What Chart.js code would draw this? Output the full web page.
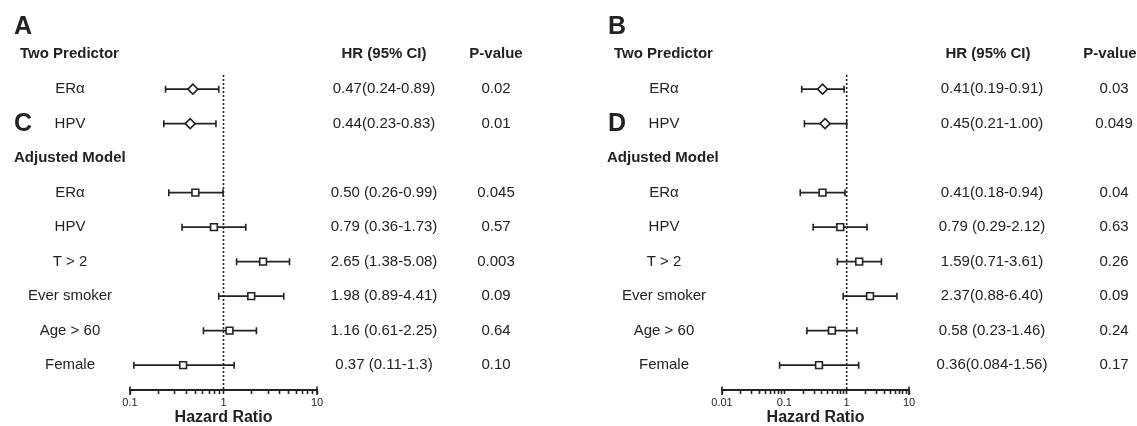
<!DOCTYPE html>
<html>
<head>
<meta charset="utf-8">
<script src="https://cdn.jsdelivr.net/npm/chart.js@4.4.1/dist/chart.umd.min.js"></script>
<style>
  html, body { margin: 0; padding: 0; background: #fff; }
  #wrap { position: relative; width: 1137px; height: 426px; overflow: hidden; }
  #wrap canvas { position: absolute; top: 0; }
</style>
</head>
<body>
<div id="wrap">
  <canvas id="panelLeft" width="568" height="426" style="left:0"></canvas>
  <canvas id="panelRight" width="569" height="426" style="left:568px"></canvas>
</div>
<script>
// ---- rows (slot 2 is the "Adjusted Model" heading) ----
const rowLabels = ['ERα', 'HPV', 'ERα', 'HPV', 'T > 2', 'Ever smoker', 'Age > 60', 'Female'];
const rowSlots  = [0, 1, 3, 4, 5, 6, 7, 8];
const rowMarker = ['rectRot', 'rectRot', 'rect', 'rect', 'rect', 'rect', 'rect', 'rect'];

// ---- panel A / C ----
const hrLeft   = [0.47, 0.44, 0.50, 0.79, 2.65, 1.98, 1.16, 0.37];
const loLeft   = [0.24, 0.23, 0.26, 0.36, 1.38, 0.89, 0.61, 0.11];
const hiLeft   = [0.89, 0.83, 0.99, 1.73, 5.08, 4.41, 2.25, 1.3];
const ciLeft   = ['0.47(0.24-0.89)', '0.44(0.23-0.83)', '0.50 (0.26-0.99)', '0.79 (0.36-1.73)',
                  '2.65 (1.38-5.08)', '1.98 (0.89-4.41)', '1.16 (0.61-2.25)', '0.37 (0.11-1.3)'];
const pLeft    = ['0.02', '0.01', '0.045', '0.57', '0.003', '0.09', '0.64', '0.10'];
const ticksLeft      = [0.1, 0.2, 0.3, 0.4, 0.5, 0.6, 0.7, 0.8, 0.9, 1, 2, 3, 4, 5, 6, 7, 8, 9, 10];
const tickLabelsLeft = [0.1, 1, 10];

// ---- panel B / D ----
const hrRight  = [0.41, 0.45, 0.41, 0.79, 1.59, 2.37, 0.58, 0.36];
const loRight  = [0.19, 0.21, 0.18, 0.29, 0.71, 0.88, 0.23, 0.084];
const hiRight  = [0.91, 1.00, 0.94, 2.12, 3.61, 6.40, 1.46, 1.56];
const ciRight  = ['0.41(0.19-0.91)', '0.45(0.21-1.00)', '0.41(0.18-0.94)', '0.79 (0.29-2.12)',
                  '1.59(0.71-3.61)', '2.37(0.88-6.40)', '0.58 (0.23-1.46)', '0.36(0.084-1.56)'];
const pRight   = ['0.03', '0.049', '0.04', '0.63', '0.26', '0.09', '0.24', '0.17'];
const ticksRight      = [0.01, 0.02, 0.03, 0.04, 0.05, 0.06, 0.07, 0.08, 0.09,
                         0.1, 0.2, 0.3, 0.4, 0.5, 0.6, 0.7, 0.8, 0.9,
                         1, 2, 3, 4, 5, 6, 7, 8, 9, 10];
const tickLabelsRight = [0.01, 0.1, 1, 10];

const FONT = "'Liberation Sans', Arial, Helvetica, sans-serif";
const INK = '#222';
const Y_MIN = -0.41, Y_MAX = 8.72;

// whiskers with end caps, drawn beneath the markers
const ciPlugin = {
  id: 'ciBars',
  beforeDatasetsDraw(chart, args, opts) {
    const { ctx, scales: { x, y } } = chart;
    ctx.save();
    ctx.strokeStyle = INK;
    ctx.lineWidth = 1.6;
    opts.lo.forEach((lo, i) => {
      const py = y.getPixelForValue(rowSlots[i]);
      const x1 = x.getPixelForValue(lo);
      const x2 = x.getPixelForValue(opts.hi[i]);
      ctx.beginPath();
      ctx.moveTo(x1, py); ctx.lineTo(x2, py);
      ctx.moveTo(x1, py - 3.5); ctx.lineTo(x1, py + 3.5);
      ctx.moveTo(x2, py - 3.5); ctx.lineTo(x2, py + 3.5);
      ctx.stroke();
    });
    ctx.restore();
  }
};

// end ticks of the axis reach a little above the axis line
const axisEndsPlugin = {
  id: 'axisEnds',
  afterDraw(chart) {
    const { ctx, scales: { x } } = chart;
    ctx.save();
    ctx.strokeStyle = INK;
    ctx.lineWidth = 1.6;
    [x.min, x.max].forEach(v => {
      const px = x.getPixelForValue(v);
      ctx.beginPath();
      ctx.moveTo(px, x.top - 3.5); ctx.lineTo(px, x.top + 5);
      ctx.stroke();
    });
    ctx.restore();
  }
};

// headings, row names, HR (95% CI) and P-value columns
const tablePlugin = {
  id: 'table',
  afterDraw(chart, args, o) {
    const { ctx, scales: { y } } = chart;
    ctx.save();
    ctx.fillStyle = INK;
    ctx.textBaseline = 'middle';

    ctx.font = 'bold 25px ' + FONT;
    ctx.textAlign = 'left';
    ctx.fillText(o.letter, o.letterX, 27);
    ctx.fillText(o.letter2, o.letterX, 124);

    ctx.font = 'bold 15px ' + FONT;
    ctx.fillText('Two Predictor', o.headX, 54);
    ctx.fillText('Adjusted Model', o.adjX, y.getPixelForValue(2));
    ctx.textAlign = 'center';
    ctx.fillText('HR (95% CI)', o.hrHeadX, 54);
    ctx.fillText('P-value', o.pHeadX, 54);

    ctx.font = '15px ' + FONT;
    rowLabels.forEach((lab, i) => {
      const py = y.getPixelForValue(rowSlots[i]);
      ctx.fillText(lab, o.labelX, py);
      ctx.fillText(o.ci[i], o.hrX, py);
      ctx.fillText(o.p[i], o.pX, py);
    });
    ctx.restore();
  }
};

function buildPanel(canvasId, cfg) {
  return new Chart(document.getElementById(canvasId), {
    data: {
      datasets: [
        {
          type: 'scatter',
          data: cfg.hr.map((v, i) => ({ x: v, y: rowSlots[i] })),
          pointStyle: rowMarker,
          pointRadius: rowMarker.map(s => s === 'rectRot' ? 5 : 4.8),
          pointBorderWidth: 1.6,
          pointBorderColor: INK,
          pointBackgroundColor: '#fff',
          clip: false
        },
        {
          type: 'line',
          data: [{ x: 1, y: Y_MIN }, { x: 1, y: Y_MAX }],
          borderColor: INK,
          borderWidth: 1.6,
          borderDash: [2, 2],
          pointRadius: 0,
          clip: false
        }
      ]
    },
    options: {
      responsive: false,
      animation: false,
      events: [],
      layout: { padding: cfg.padding },
      plugins: {
        legend: { display: false },
        tooltip: { enabled: false },
        ciBars: { lo: cfg.lo, hi: cfg.hi },
        table: cfg.table
      },
      scales: {
        x: {
          type: 'logarithmic',
          position: 'bottom',
          min: cfg.ticks[0],
          max: cfg.ticks[cfg.ticks.length - 1],
          afterBuildTicks: s => { s.ticks = cfg.ticks.map(v => ({ value: v })); },
          afterFit: s => { s.height = 36; },
          grid: { drawOnChartArea: false, drawTicks: true, tickLength: 4, tickWidth: 1.6, tickColor: INK },
          border: { display: true, color: INK, width: 2 },
          ticks: {
            autoSkip: false,
            maxRotation: 0,
            padding: 2,
            color: INK,
            font: { family: FONT, size: 11 },
            callback: v => cfg.tickLabels.includes(v) ? String(v) : ''
          },
          title: {
            display: true,
            text: 'Hazard Ratio',
            color: INK,
            font: { family: FONT, size: 16, weight: 'bold', lineHeight: 1 },
            padding: { top: 0, bottom: 0 }
          }
        },
        y: {
          type: 'linear',
          display: false,
          reverse: true,
          min: Y_MIN,
          max: Y_MAX
        }
      }
    },
    plugins: [ciPlugin, axisEndsPlugin, tablePlugin]
  });
}

buildPanel('panelLeft', {
  hr: hrLeft, lo: loLeft, hi: hiLeft,
  ticks: ticksLeft, tickLabels: tickLabelsLeft,
  padding: { top: 75, bottom: 0, left: 130, right: 251 },
  table: {
    letter: 'A', letter2: 'C', letterX: 14, headX: 20, adjX: 14,
    labelX: 70, hrX: 384, hrHeadX: 384, pX: 496, pHeadX: 496,
    ci: ciLeft, p: pLeft
  }
});

buildPanel('panelRight', {
  hr: hrRight, lo: loRight, hi: hiRight,
  ticks: ticksRight, tickLabels: tickLabelsRight,
  padding: { top: 75, bottom: 0, left: 154, right: 228 },
  table: {
    letter: 'B', letter2: 'D', letterX: 40, headX: 46, adjX: 39,
    labelX: 96, hrX: 424, hrHeadX: 420, pX: 546, pHeadX: 542,
    ci: ciRight, p: pRight
  }
});
</script>
</body>
</html>
